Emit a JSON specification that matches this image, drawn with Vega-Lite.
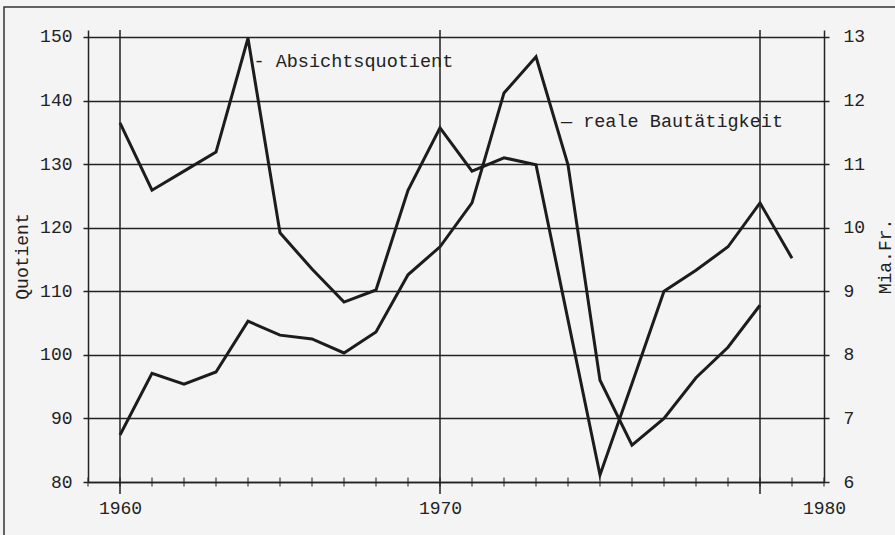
{
  "$schema": "https://vega.github.io/schema/vega-lite/v6.json",
  "width": 736,
  "height": 452,
  "autosize": {"type": "none"},
  "padding": {"left": 88, "top": 30, "right": 71, "bottom": 53},
  "background": "#f4f4f4",
  "config": {
    "view": {"stroke": null},
    "font": "Liberation Mono",
    "axis": {
      "labelFont": "Liberation Mono",
      "labelFontSize": 18,
      "labelColor": "#222222",
      "titleFont": "Liberation Mono",
      "titleFontSize": 18,
      "titleFontWeight": "normal",
      "titleColor": "#222222",
      "domainColor": "#222222",
      "domainWidth": 1.5,
      "tickColor": "#222222",
      "tickWidth": 1.5,
      "tickSize": 5,
      "labelFlush": false
    }
  },
  "datasets": {
    "absicht": [
      {"year": 1960, "q": 136.5}, {"year": 1961, "q": 125.9}, {"year": 1962, "q": 128.9},
      {"year": 1963, "q": 131.9}, {"year": 1964, "q": 149.8}, {"year": 1965, "q": 119.2},
      {"year": 1966, "q": 113.5}, {"year": 1967, "q": 108.3}, {"year": 1968, "q": 110.2},
      {"year": 1969, "q": 125.9}, {"year": 1970, "q": 135.7}, {"year": 1971, "q": 128.9},
      {"year": 1972, "q": 131.0}, {"year": 1973, "q": 129.9}, {"year": 1974, "q": 105.5},
      {"year": 1975, "q": 81.1}, {"year": 1976, "q": 95.5}, {"year": 1977, "q": 110.0},
      {"year": 1978, "q": 113.3}, {"year": 1979, "q": 117.0}, {"year": 1980, "q": 123.9},
      {"year": 1981, "q": 115.2}
    ],
    "bau": [
      {"year": 1960, "mia": 6.74}, {"year": 1961, "mia": 7.71}, {"year": 1962, "mia": 7.54},
      {"year": 1963, "mia": 7.73}, {"year": 1964, "mia": 8.53}, {"year": 1965, "mia": 8.31},
      {"year": 1966, "mia": 8.25}, {"year": 1967, "mia": 8.03}, {"year": 1968, "mia": 8.36},
      {"year": 1969, "mia": 9.26}, {"year": 1970, "mia": 9.70}, {"year": 1971, "mia": 10.39},
      {"year": 1972, "mia": 12.12}, {"year": 1973, "mia": 12.69}, {"year": 1974, "mia": 10.99},
      {"year": 1975, "mia": 7.60}, {"year": 1976, "mia": 6.58}, {"year": 1977, "mia": 7.00},
      {"year": 1978, "mia": 7.64}, {"year": 1979, "mia": 8.12}, {"year": 1980, "mia": 8.78}
    ],
    "ticks": [
      {"year": 1959}, {"year": 1960}, {"year": 1961}, {"year": 1962}, {"year": 1963}, {"year": 1964},
      {"year": 1965}, {"year": 1966}, {"year": 1967}, {"year": 1968}, {"year": 1969}, {"year": 1970},
      {"year": 1971}, {"year": 1972}, {"year": 1973}, {"year": 1974}, {"year": 1975}, {"year": 1976},
      {"year": 1977}, {"year": 1978}, {"year": 1979}, {"year": 1980}, {"year": 1981}, {"year": 1982}
    ],
    "vgrid": [{"year": 1960}, {"year": 1970}, {"year": 1980}],
    "labels": [
      {"series": "Absichtsquotient", "label": "- Absichtsquotient"},
      {"series": "Bau", "label": "— reale Bautätigkeit"}
    ],
    "frame": [{"part": "frame"}]
  },
  "layer": [
    {
      "data": {"name": "absicht"},
      "mark": {"type": "line", "color": "#1c1c1c", "strokeWidth": 3},
      "encoding": {
        "x": {"field": "year", "type": "quantitative", "title": null, "scale": {"domain": [1959, 1982], "nice": false, "zero": false},
          "axis": {"values": [1960, 1970, 1982], "format": "d", "labelExpr": "datum.value == 1982 ? '1980' : datum.label", "grid": false, "ticks": false, "labelPadding": 17}},
        "y": {
          "field": "q",
          "type": "quantitative",
          "scale": {"domain": [80, 151.1], "nice": false, "zero": false},
          "axis": {
            "orient": "left",
            "values": [80, 90, 100, 110, 120, 130, 140, 150],
            "grid": true,
            "gridColor": "#222222",
            "gridWidth": 1.5,
            "gridOpacity": 1,
            "labelPadding": 11,
            "title": "Quotient",
            "titlePadding": 8
          }
        }
      }
    },
    {
      "data": {"name": "bau"},
      "mark": {"type": "line", "color": "#1c1c1c", "strokeWidth": 3},
      "encoding": {
        "x": {"field": "year", "type": "quantitative", "title": null, "scale": {"domain": [1959, 1982], "nice": false, "zero": false},
          "axis": {"values": [1960, 1970, 1982], "format": "d", "labelExpr": "datum.value == 1982 ? '1980' : datum.label", "grid": false, "ticks": false, "labelPadding": 17}},
        "y": {
          "field": "mia",
          "type": "quantitative",
          "scale": {"domain": [6, 13.11], "nice": false, "zero": false},
          "axis": {
            "orient": "right",
            "values": [6, 7, 8, 9, 10, 11, 12, 13],
            "grid": false,
            "labelPadding": 14,
            "title": "Mia.Fr.",
            "titleAngle": -90,
            "titleBaseline": "top",
            "titlePadding": 12
          }
        }
      }
    },
    {
      "data": {"name": "vgrid"},
      "mark": {"type": "rule", "color": "#222222", "strokeWidth": 1.5},
      "encoding": {
        "x": {"field": "year", "type": "quantitative", "title": null, "scale": {"domain": [1959, 1982], "nice": false, "zero": false},
          "axis": {"values": [1960, 1970, 1982], "format": "d", "labelExpr": "datum.value == 1982 ? '1980' : datum.label", "grid": false, "ticks": false, "labelPadding": 17}},
        "y": {"datum": 78.1, "type": "quantitative", "scale": {"domain": [80, 151.1], "nice": false, "zero": false}, "axis": null},
        "y2": {"datum": 151.1}
      }
    },
    {
      "data": {"name": "ticks"},
      "mark": {"type": "tick", "orient": "vertical", "color": "#222222", "size": 9, "thickness": 1.5},
      "encoding": {
        "x": {"field": "year", "type": "quantitative", "title": null, "scale": {"domain": [1959, 1982], "nice": false, "zero": false},
          "axis": {"values": [1960, 1970, 1982], "format": "d", "labelExpr": "datum.value == 1982 ? '1980' : datum.label", "grid": false, "ticks": false, "labelPadding": 17}},
        "y": {"datum": 80, "type": "quantitative", "scale": {"domain": [80, 151.1], "nice": false, "zero": false}, "axis": null}
      }
    },
    {
      "data": {"name": "frame"},
      "mark": {"type": "rect", "filled": false, "stroke": "#333333", "strokeWidth": 1.5},
      "encoding": {
        "x": {"datum": 1956.375, "type": "quantitative", "title": null,
          "axis": {"values": [1960, 1970, 1982], "format": "d", "labelExpr": "datum.value == 1982 ? '1980' : datum.label", "grid": false, "ticks": false, "labelPadding": 17}},
        "x2": {"datum": 1995},
        "y": {"datum": 154.7, "type": "quantitative", "scale": {"domain": [80, 151.1], "nice": false, "zero": false}, "axis": null},
        "y2": {"datum": 50}
      }
    },
    {
      "data": {"name": "labels"},
      "transform": [{"filter": "datum.series == 'Absichtsquotient'"}],
      "mark": {"type": "text", "align": "left", "baseline": "alphabetic", "fontSize": 18.5, "font": "Liberation Mono", "color": "#222222"},
      "encoding": {
        "text": {"field": "label"},
        "x": {"datum": 1964.17, "type": "quantitative", "title": null,
          "axis": {"values": [1960, 1970, 1982], "format": "d", "labelExpr": "datum.value == 1982 ? '1980' : datum.label", "grid": false, "ticks": false, "labelPadding": 17}},
        "y": {"datum": 145.28, "type": "quantitative", "scale": {"domain": [80, 151.1], "nice": false, "zero": false}, "axis": null}
      }
    },
    {
      "data": {"name": "labels"},
      "transform": [{"filter": "datum.series == 'Bau'"}],
      "mark": {"type": "text", "align": "left", "baseline": "alphabetic", "fontSize": 18.5, "font": "Liberation Mono", "color": "#222222"},
      "encoding": {
        "text": {"field": "label"},
        "x": {"datum": 1973.78, "type": "quantitative", "title": null,
          "axis": {"values": [1960, 1970, 1982], "format": "d", "labelExpr": "datum.value == 1982 ? '1980' : datum.label", "grid": false, "ticks": false, "labelPadding": 17}},
        "y": {"datum": 135.84, "type": "quantitative", "scale": {"domain": [80, 151.1], "nice": false, "zero": false}, "axis": null}
      }
    }
  ],
  "resolve": {"scale": {"y": "independent"}}
}
